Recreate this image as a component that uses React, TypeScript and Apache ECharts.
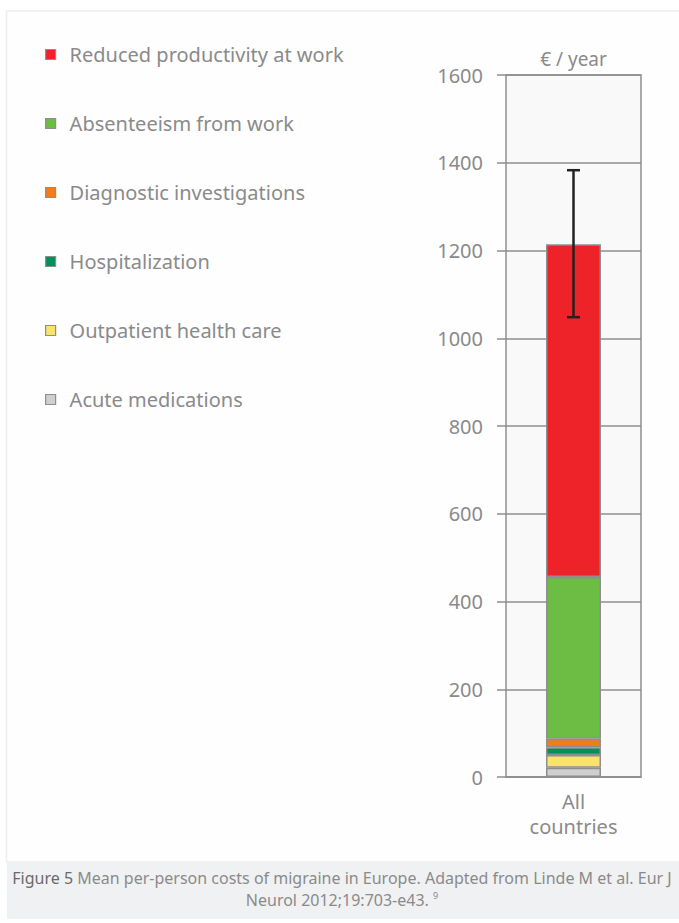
import React, { useEffect, useRef } from "react";
import * as echarts from "echarts";

const categories = ["All\ncountries"];
const seriesNames = [
  "Acute medications",
  "Outpatient health care",
  "Hospitalization",
  "Diagnostic investigations",
  "Absenteeism from work",
  "Reduced productivity at work",
];
const acuteMedications = [21];
const outpatientCare = [29];
const hospitalization = [18];
const diagnosticInvestigations = [19];
const absenteeism = [369];
const reducedProductivity = [758];
const errorLow = [1048];
const errorHigh = [1383];
const legendOrder = [
  "Reduced productivity at work",
  "Absenteeism from work",
  "Diagnostic investigations",
  "Hospitalization",
  "Outpatient health care",
  "Acute medications",
];
const colors = ["#cfcfcf", "#f8e270", "#00915a", "#f07c22", "#6dbd45", "#ee2229"];
const seriesValues = [
  acuteMedications,
  outpatientCare,
  hospitalization,
  diagnosticInvestigations,
  absenteeism,
  reducedProductivity,
];

const FONT = "Noto Sans";
const GRAY = "#8a8a8a";
const LINE = "#8e8e8e";

export default function App() {
  const ref = useRef<HTMLDivElement>(null);
  useEffect(() => {
    if (!ref.current) return;
    const chart = echarts.init(ref.current, undefined, { renderer: "svg" });
    const bars = seriesNames.map((name, i) => ({
      name,
      type: "bar",
      stack: "cost",
      barWidth: 55,
      data: seriesValues[i],
      itemStyle: { color: colors[i], borderColor: LINE, borderWidth: 1.5 },
      z: 3,
    }));
    chart.setOption({
      animation: false,
      textStyle: { fontFamily: FONT },
      graphic: [
        {
          type: "rect",
          z: -10,
          shape: { x: 6.5, y: 11, width: 700, height: 851 },
          style: { fill: "#fefefe", stroke: "#eeeeee", lineWidth: 1.5 },
        },
        {
          type: "rect",
          z: -9,
          shape: { x: 7, y: 862, width: 672, height: 57 },
          style: { fill: "#f0f1f3" },
        },
        {
          type: "text",
          x: 342,
          y: 878,
          style: {
            text: "{b|Figure 5} Mean per-person costs of migraine in Europe. Adapted from Linde M et al. Eur J",
            align: "center",
            verticalAlign: "middle",
            fontFamily: FONT,
            fontSize: 16,
            lineHeight: 18,
            fill: "#8a8a8a",
            rich: {
              b: { fill: "#6a6a6a", fontSize: 16, fontFamily: FONT, lineHeight: 18 },
            },
          },
        },
        {
          type: "text",
          x: 342,
          y: 900,
          style: {
            text: "Neurol 2012;19:703-e43. {s|9}",
            align: "center",
            verticalAlign: "middle",
            fontFamily: FONT,
            fontSize: 16,
            lineHeight: 18,
            fill: "#8a8a8a",
            rich: {
              s: { fill: "#8a8a8a", fontSize: 9, fontFamily: FONT, lineHeight: 18, verticalAlign: "top" },
            },
          },
        },
        {
          type: "text",
          x: 573.5,
          y: 59,
          style: {
            text: "€ / year",
            align: "center",
            verticalAlign: "middle",
            fontFamily: FONT,
            fontSize: 19,
            fill: GRAY,
          },
        },
      ],
      legend: {
        orient: "vertical",
        left: 40,
        top: 39,
        itemWidth: 10,
        itemHeight: 10,
        itemGap: 48,
        icon: "rect",
        data: legendOrder,
        textStyle: {
          fontFamily: FONT,
          fontSize: 20,
          color: GRAY,
          padding: [0, 0, 0, 9],
          lineHeight: 21,
        },
        itemStyle: { borderColor: LINE, borderWidth: 1.2 },
        selectedMode: false,
      },
      grid: {
        left: 506,
        right: 38,
        top: 75,
        bottom: 146,
        show: true,
        backgroundColor: "#f9f9f9",
        borderColor: LINE,
        borderWidth: 1.5,
      },
      xAxis: {
        type: "category",
        data: categories,
        axisLine: { show: true, lineStyle: { color: LINE, width: 1.5 } },
        axisTick: { show: false },
        axisLabel: {
          color: GRAY,
          fontSize: 20,
          fontFamily: FONT,
          lineHeight: 25,
          margin: 12,
        },
      },
      yAxis: {
        type: "value",
        min: 0,
        max: 1600,
        interval: 200,
        axisLine: { show: false },
        axisTick: { show: true, length: 9, lineStyle: { color: LINE, width: 1.5 } },
        splitLine: { show: true, lineStyle: { color: LINE, width: 1.5 } },
        axisLabel: {
          color: GRAY,
          fontSize: 20,
          fontFamily: FONT,
          margin: 23,
          formatter: (v: number) => String(v),
        },
      },
      series: [
        ...bars,
        {
          type: "custom",
          name: "error",
          z: 10,
          data: [[0, errorLow[0], errorHigh[0]]],
          encode: { x: 0, y: [1, 2] },
          renderItem: (params: any, api: any) => {
            const lo = api.coord([api.value(0), api.value(1)]);
            const hi = api.coord([api.value(0), api.value(2)]);
            const cap = 6.5;
            const style = { stroke: "#222222", lineWidth: 2.5 };
            return {
              type: "group",
              children: [
                { type: "line", shape: { x1: hi[0], y1: hi[1], x2: lo[0], y2: lo[1] }, style },
                { type: "line", shape: { x1: hi[0] - cap, y1: hi[1], x2: hi[0] + cap, y2: hi[1] }, style },
                { type: "line", shape: { x1: lo[0] - cap, y1: lo[1], x2: lo[0] + cap, y2: lo[1] }, style },
              ],
            };
          },
        },
      ],
    });
    return () => chart.dispose();
  }, []);
  return (
    <div
      ref={ref}
      style={{ position: "absolute", left: 0, top: 0, width: 679, height: 923 }}
    />
  );
}
